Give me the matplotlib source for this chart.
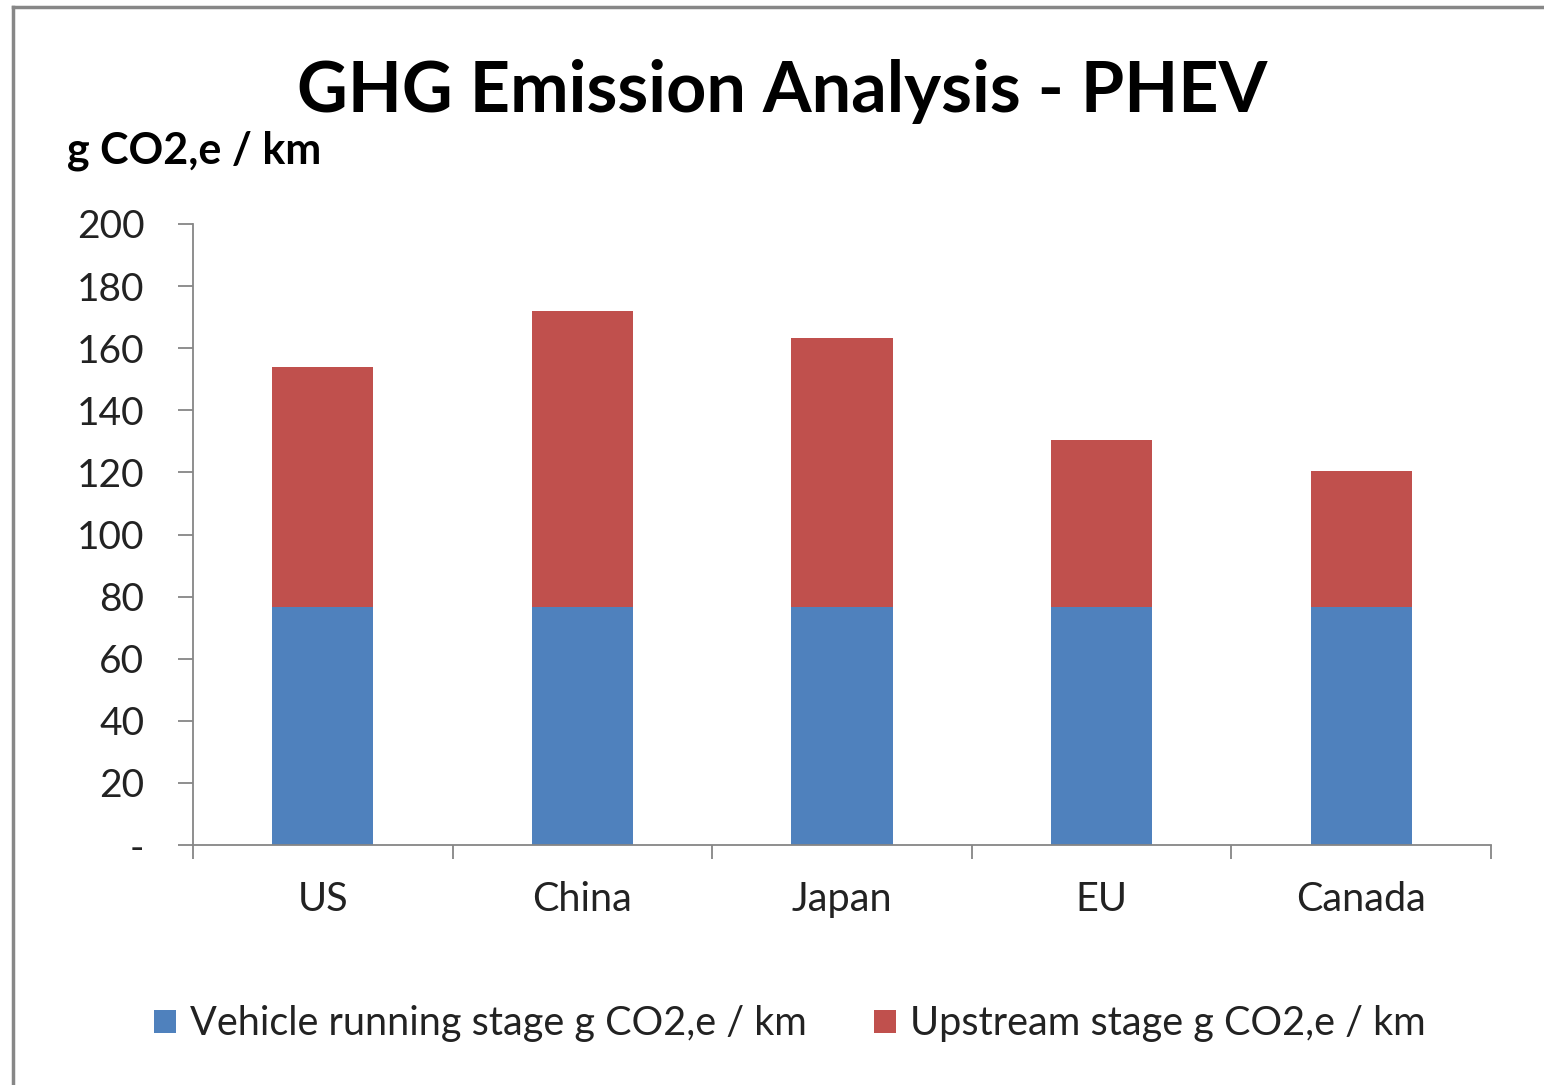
import numpy as np
import matplotlib
matplotlib.use("Agg")
import matplotlib.pyplot as plt
from matplotlib.lines import Line2D

plt.rcParams['font.family'] = ['Lato', 'DejaVu Sans']

# data
regions = ["US", "China", "Japan", "EU", "Canada"]
running = [76.5, 76.5, 76.5, 76.5, 76.5]
upstream = [77.5, 95.5, 86.8, 53.9, 43.9]
ytick_vals = [0, 20, 40, 60, 80, 100, 120, 140, 160, 180, 200]
ytick_labels = ["-", "20", "40", "60", "80", "100", "120", "140", "160", "180", "200"]

blue = "#4F81BD"
red = "#C0504D"
grey = "#868686"

W, H = 1544, 1085
fig = plt.figure(figsize=(W / 100, H / 100), dpi=100)
ax = fig.add_axes([193 / W, 1 - 845 / H, (1491 - 193) / W, (845 - 224) / H])

x = np.arange(len(regions))
ax.bar(x, running, width=0.39, color=blue, label="Vehicle running stage g CO2,e / km")
ax.bar(x, upstream, width=0.39, bottom=running, color=red, label="Upstream stage g CO2,e / km")

ax.set_xlim(-0.5, len(regions) - 0.5)
ax.set_ylim(0, 200)
ax.set_yticks(ytick_vals)
ax.set_yticklabels(ytick_labels)
ax.set_xticks(x)
ax.set_xticklabels(regions)
ax.set_xticks(np.arange(len(regions) + 1) - 0.5, minor=True)

for s in ["top", "right"]:
    ax.spines[s].set_visible(False)
for s in ["left", "bottom"]:
    ax.spines[s].set_color(grey)
    ax.spines[s].set_linewidth(1.3)

ax.tick_params(axis="y", length=11, width=1.3, color=grey, labelsize=28, pad=24, labelcolor="#222222")
ax.tick_params(axis="x", which="major", length=0, labelsize=28.5, pad=26, labelcolor="#222222")
ax.tick_params(axis="x", which="minor", length=10, width=1.3, color=grey)

# title and axis unit label
fig.text(782 / W, 1 - 92 / H, "GHG Emission Analysis - PHEV", ha="center", va="center",
         fontsize=50.5, fontweight="bold")
fig.text(67 / W, 1 - 151 / H, "g CO2,e / km", ha="left", va="center",
         fontsize=31, fontweight="bold")

fig.legend(loc="center", bbox_to_anchor=(790 / W, 1 - 1024 / H), ncol=2, frameon=False,
           fontsize=28.5, handlelength=0.55, handleheight=0.55, handletextpad=0.35,
           columnspacing=1.7, labelcolor="#222222")

# outer chart border (left and top only, as in the screenshot)
fig.add_artist(Line2D([13 / W, 13 / W], [0, 1 - 7 / H], transform=fig.transFigure,
                      color="#878787", linewidth=2.5))
fig.add_artist(Line2D([13 / W, 1], [1 - 7 / H, 1 - 7 / H], transform=fig.transFigure,
                      color="#878787", linewidth=2.5))

fig.savefig("out.png", dpi=100)
